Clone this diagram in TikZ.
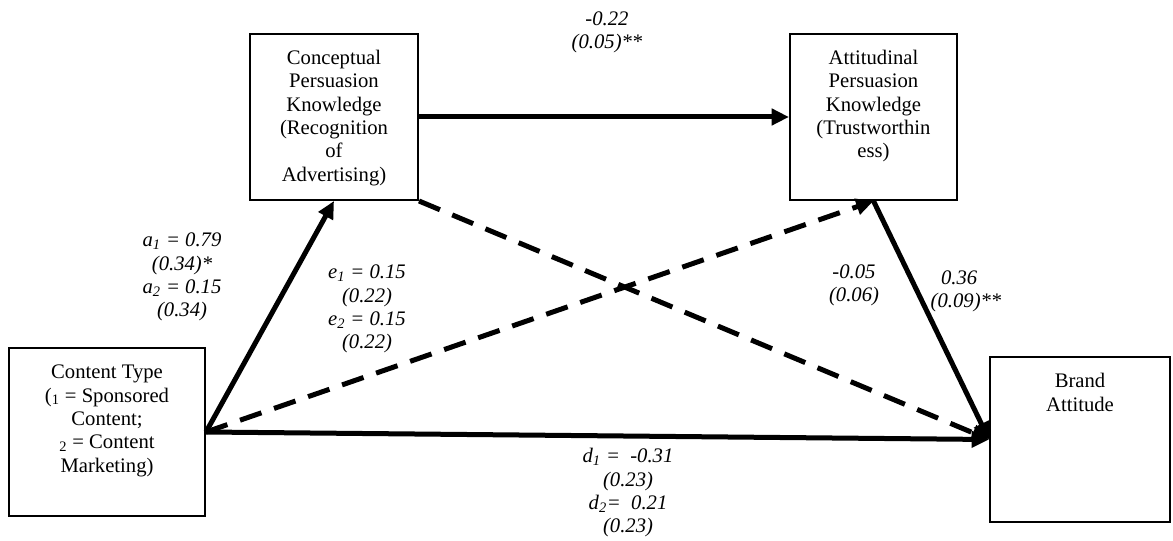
\documentclass[tikz,border=0pt]{standalone}
\usepackage{fontspec}
\setmainfont{Liberation Serif}
\usetikzlibrary{arrows.meta}
\newcommand{\boxtext}[3]{\parbox[c][#2][t]{#1}{\centering\rule{0pt}{23pt}#3}}

\begin{document}
\begin{tikzpicture}[
  x=0.75pt, y=-0.75pt,
  font=\fontsize{15.5}{17.5}\selectfont,
  box/.style={draw, line width=1.5pt, inner sep=0pt},
  coef/.style={align=center, font=\fontsize{15.5}{17.5}\selectfont\itshape},
  arrow/.style={-{Triangle[length=13pt,width=12pt]}, line width=3.75pt},
  dasharrow/.style={arrow, dash pattern=on 17pt off 10pt}
]
\useasboundingbox (0,0) rectangle (1173,541);

\node[box] (type) at (107,432) {\boxtext{147pt}{126pt}{Content Type\\(\textsubscript{1} = Sponsored\\Content;\\\textsubscript{2} = Content\\Marketing)}};
\node[box] (conc) at (334,117) {\boxtext{126pt}{124.5pt}{Conceptual\\Persuasion\\Knowledge\\(Recognition\\of\\Advertising)}};
\node[box] (att) at (873.5,117) {\boxtext{125.25pt}{124.5pt}{Attitudinal\\Persuasion\\Knowledge\\(Trustworthin\\ess)}};
\node[box] (brand) at (1080,439.5) {\boxtext{135pt}{123.75pt}{Brand\\Attitude}};

\draw[arrow] (type.east) -- (conc.south);
\draw[dasharrow] (type.east) -- (att.south);
\draw[arrow] (type.east) -- (brand.west);
\draw[arrow] (conc.east) -- (att.west);
\draw[dasharrow] (conc.south east) -- (brand.west);
\draw[arrow] (att.south) -- (brand.west);

\node[coef] (pathb) at (607,32) {-0.22\\(0.05)**};
\node[coef] (patha) at (182,277) {a\textsubscript{1} = 0.79\\(0.34)*\\a\textsubscript{2} = 0.15\\(0.34)};
\node[coef] (pathe) at (367,309) {e\textsubscript{1} = 0.15\\(0.22)\\e\textsubscript{2} = 0.15\\(0.22)};
\node[coef] (pathc) at (854,285) {-0.05\\(0.06)};
\node[coef, anchor=west, align=left] (pathf) at (926,291) {\ \ 0.36\\(0.09)**};
\node[coef] (pathd) at (628,493) {d\textsubscript{1} =\ \ -0.31\\(0.23)\\d\textsubscript{2}=\ \ 0.21\\(0.23)};
\end{tikzpicture}
\end{document}
